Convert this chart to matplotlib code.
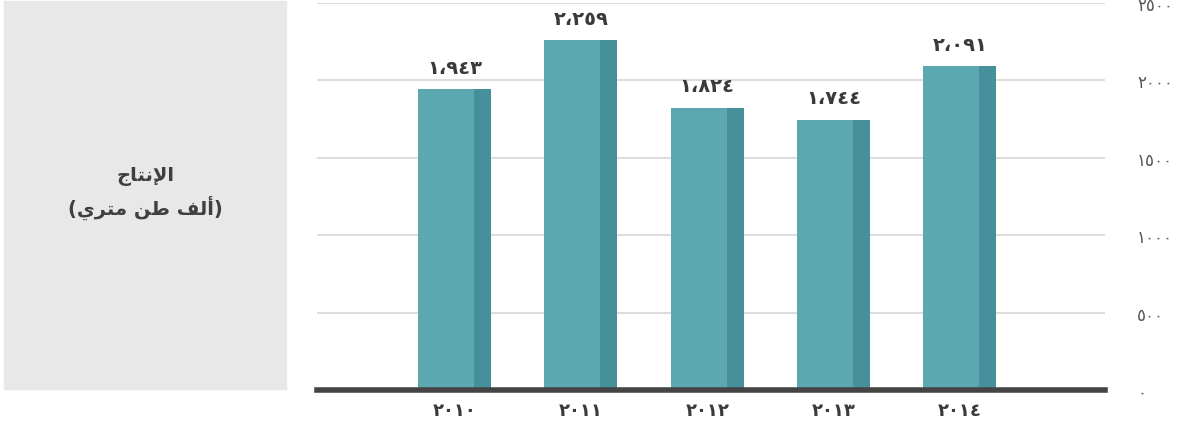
import matplotlib.pyplot as plt
from matplotlib.patches import Rectangle

# data
years = ['2010', '2011', '2012', '2013', '2014']
production = [1943, 2259, 1824, 1744, 2091]
yticks = [0, 500, 1000, 1500, 2000, 2500]

AR = str.maketrans('0123456789,', '٠١٢٣٤٥٦٧٨٩،')

def ar(s):
    return str(s).translate(AR)

# arabic text already shaped (presentation forms, visual order)
title1 = '\ufe9d\ufe8e\ufe98\ufee7\ufef9\ufe8d'
title2 = '(' + '\ufef1\ufeae\ufe98\ufee3' + ' ' + '\ufee6\ufec3' + ' ' + '\ufed2\ufedf\ufe83' + ')'

plt.rcParams['font.family'] = ['DejaVu Sans']

fig = plt.figure(figsize=(11.8, 4.27), dpi=100)

# grey side box
fig.patches.append(Rectangle((4/1180, 37/427), 282/1180, 388/427,
                             transform=fig.transFigure, color='#e8e8e8', zorder=0))
fig.text(145/1180, 1 - 177/427, title1, ha='center', va='center',
         fontsize=14, fontweight='bold', color='#3f3f3f')
fig.text(145/1180, 1 - 208/427, title2, ha='center', va='center',
         fontsize=14, fontweight='bold', color='#3f3f3f')

ax = fig.add_axes([317/1180, 36/427, 788/1180, 387/427])
x = list(range(len(years)))
front_w = 0.443
side_w = 0.134
left = [i - (front_w + side_w) / 2 for i in x]
ax.bar(left, production, width=front_w, align='edge', color='#5ba8b0', zorder=2)
ax.bar([l + front_w for l in left], production, width=side_w, align='edge',
       color='#45909a', zorder=2)

for i, v in zip(x, production):
    ax.annotate(ar(f'{v:,}'), (i, v), xytext=(0, 16), textcoords='offset points',
                ha='center', va='center', fontsize=14, fontweight='bold', color='#3a3a3a')

ax.set_xlim(-1.09, 5.15)
ax.set_ylim(0, 2500)
ax.set_xticks(x)
ax.set_xticklabels([ar(y) for y in years], fontsize=13, fontweight='bold', color='#3a3a3a')
ax.set_yticks(yticks)
ax.set_yticklabels([ar(t) for t in yticks], fontsize=12, color='#555555')
ax.yaxis.tick_right()
ax.tick_params(axis='y', length=0, pad=23)
ax.tick_params(axis='x', length=0, pad=8)
for lbl in ax.get_yticklabels():
    lbl.set_ha('left')

ax.grid(axis='y', color='#dddddd', linewidth=1.5, zorder=0)
ax.set_axisbelow(True)
for s in ['top', 'left', 'right']:
    ax.spines[s].set_visible(False)
ax.spines['bottom'].set_color('#444444')
ax.spines['bottom'].set_linewidth(4)
ax.spines['bottom'].set_zorder(3)

plt.savefig('out.png', dpi=100)
